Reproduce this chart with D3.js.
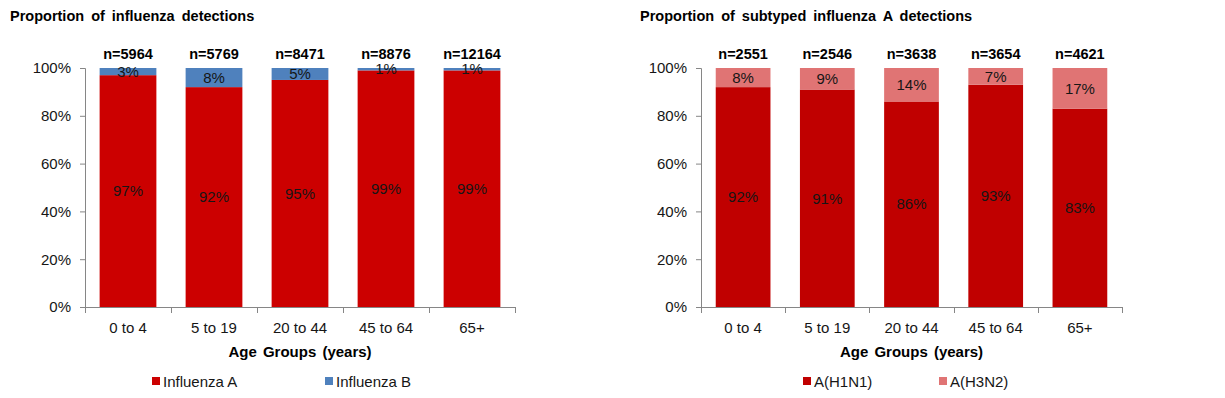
<!DOCTYPE html>
<html>
<head>
<meta charset="utf-8">
<script src="https://cdn.jsdelivr.net/npm/d3@7/dist/d3.min.js"></script>
<style>
  html, body { margin: 0; padding: 0; background: #fff; }
  svg { display: block; font-family: Arial, "Liberation Sans", sans-serif; }
</style>
</head>
<body>
<svg id="chart" width="1225" height="398"></svg>
<script>
// ---- Data ----
const ageGroups = ["0 to 4", "5 to 19", "20 to 44", "45 to 64", "65+"];
const yTicks = [0, 0.2, 0.4, 0.6, 0.8, 1.0];

// Left chart: proportion of influenza detections
const leftTitle = "Proportion of influenza detections";
const leftN = [5964, 5769, 8471, 8876, 12164];
const influenzaA = [97, 92, 95, 99, 99];
const influenzaB = [3, 8, 5, 1, 1];
const leftSeriesNames = ["Influenza A", "Influenza B"];

// Right chart: proportion of subtyped influenza A detections
const rightTitle = "Proportion of subtyped influenza A detections";
const rightN = [2551, 2546, 3638, 3654, 4621];
const h1n1 = [92, 91, 86, 93, 83];
const h3n2 = [8, 9, 14, 7, 17];
const rightSeriesNames = ["A(H1N1)", "A(H3N2)"];

const xAxisTitle = "Age Groups (years)";

// ---- Drawing ----
const svg = d3.select("#chart");
const axisColor = "#868686";
const textColor = "#161616";

function drawPanel(opt) {
  const g = svg.append("g");
  const x = d3.scaleBand().domain(ageGroups).range([opt.x0, opt.x1])
    .paddingInner(opt.pad).paddingOuter(opt.pad / 2);
  const y = d3.scaleLinear().domain([0, 1]).range([307, 68]);

  // title
  g.append("text").attr("x", opt.titleX).attr("y", 21)
    .attr("font-size", 14.5).attr("font-weight", "bold")
    .attr("word-spacing", "3px").attr("fill", "#000")
    .text(opt.title);

  // bars
  const stackData = ageGroups.map((c, i) => ({ cat: c, a: opt.s1[i] / 100, b: opt.s2[i] / 100 }));
  const stack = d3.stack().keys(["a", "b"])(stackData);
  const colors = { a: opt.c1, b: opt.c2 };
  stack.forEach(layer => {
    g.append("g").selectAll("rect").data(layer).enter().append("rect")
      .attr("x", d => x(d.data.cat))
      .attr("width", x.bandwidth())
      .attr("y", d => y(d[1]))
      .attr("height", d => y(d[0]) - y(d[1]))
      .attr("fill", colors[layer.key]);
    g.append("g").selectAll("text").data(layer).enter().append("text")
      .attr("x", d => x(d.data.cat) + x.bandwidth() / 2)
      .attr("y", d => (y(d[0]) + y(d[1])) / 2)
      .attr("dy", "0.35em")
      .attr("text-anchor", "middle")
      .attr("font-size", 15)
      .attr("fill", textColor)
      .text(d => Math.round((d[1] - d[0]) * 100) + "%");
  });

  // n labels
  g.append("g").selectAll("text").data(ageGroups).enter().append("text")
    .attr("x", d => x(d) + x.bandwidth() / 2)
    .attr("y", 59)
    .attr("text-anchor", "middle")
    .attr("font-size", 14.5).attr("font-weight", "bold").attr("fill", "#000")
    .text((d, i) => "n=" + opt.n[i]);

  // y axis
  const yAxis = d3.axisLeft(y).tickValues(yTicks).tickFormat(d3.format(".0%"))
    .tickSize(5).tickPadding(9);
  const ya = g.append("g").attr("transform", `translate(${opt.x0},0)`).call(yAxis);
  ya.selectAll("path, line").attr("stroke", axisColor);
  ya.select(".domain").attr("d", `M-5,68.5H0.5V307.5`);
  ya.selectAll("text").attr("font-size", 15).attr("fill", textColor)
    .attr("font-family", "Arial, 'Liberation Sans', sans-serif");

  // x axis
  const xAxis = d3.axisBottom(x).tickSize(0).tickPadding(15);
  const xa = g.append("g").attr("transform", `translate(0,${y(0)})`).call(xAxis);
  xa.select(".domain").attr("stroke", axisColor).attr("d", `M${opt.x0},0.5H${opt.x1}`);
  xa.selectAll("text").attr("font-size", 15).attr("fill", textColor)
    .attr("font-family", "Arial, 'Liberation Sans', sans-serif");
  const bounds = d3.range(ageGroups.length + 1).map(i => opt.x0 + i * x.step());
  xa.append("g").selectAll("line").data(bounds).enter().append("line")
    .attr("x1", d => Math.round(d) + 0.5).attr("x2", d => Math.round(d) + 0.5)
    .attr("y1", 0).attr("y2", 6).attr("stroke", axisColor);

  // axis title
  g.append("text").attr("x", (opt.x0 + opt.x1) / 2).attr("y", 357)
    .attr("text-anchor", "middle").attr("font-size", 15).attr("font-weight", "bold")
    .attr("word-spacing", "2px").attr("fill", "#000")
    .text(xAxisTitle);

  // legend
  opt.legend.forEach((lg, i) => {
    g.append("rect").attr("x", lg.x).attr("y", 377).attr("width", 8).attr("height", 8)
      .attr("fill", i === 0 ? opt.c1 : opt.c2);
    g.append("text").attr("x", lg.x + 11).attr("y", 387)
      .attr("font-size", 15).attr("fill", textColor)
      .text(opt.names[i]);
  });
}

drawPanel({
  x0: 85, x1: 515, pad: 0.34, titleX: 10, title: leftTitle,
  s1: influenzaA, s2: influenzaB, c1: "#CC0000", c2: "#4F81BD", n: leftN,
  names: leftSeriesNames, legend: [{ x: 152 }, { x: 325 }]
});
drawPanel({
  x0: 701, x1: 1122, pad: 0.35, titleX: 640, title: rightTitle,
  s1: h1n1, s2: h3n2, c1: "#C00000", c2: "#E07474", n: rightN,
  names: rightSeriesNames, legend: [{ x: 803 }, { x: 939 }]
});
</script>
</body>
</html>
